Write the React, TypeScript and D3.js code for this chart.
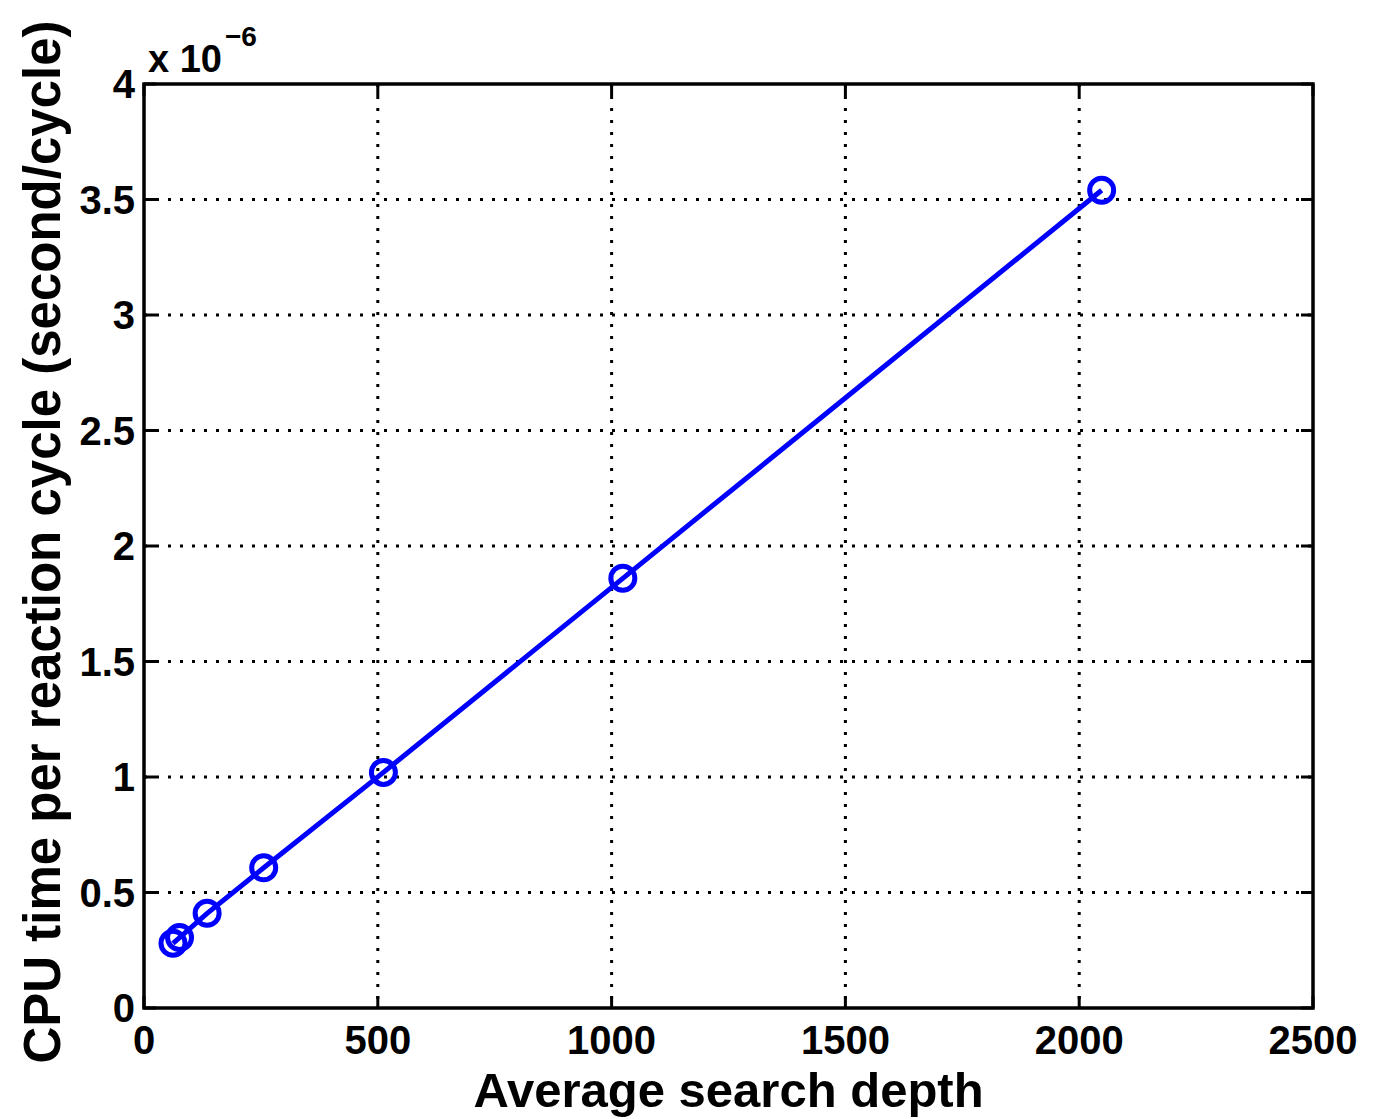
import React from "react";
import * as d3 from "d3";

// average search depth vs cpu time (x 1e-6 s)
const depths = [62, 76, 135, 256, 512, 1024, 2048];
const cpuTimes = [0.28, 0.305, 0.41, 0.607, 1.02, 1.86, 3.54];
const xTicks = [0, 500, 1000, 1500, 2000, 2500];
const yTicks = [0, 0.5, 1, 1.5, 2, 2.5, 3, 3.5, 4];

const width = 1380;
const height = 1119;
const margin = { top: 84, right: 67, bottom: 111, left: 144 };
const font = "'Liberation Sans', Arial, Helvetica, sans-serif";

function Chart() {
  const ref = React.useRef<SVGSVGElement>(null);

  React.useEffect(() => {
    const svg = d3.select(ref.current);
    svg.selectAll("*").remove();

    const x = d3
      .scaleLinear()
      .domain([0, 2500])
      .range([margin.left, width - margin.right]);
    const y = d3
      .scaleLinear()
      .domain([0, 4])
      .range([height - margin.bottom, margin.top]);

    // dotted grid
    const grid = svg.append("g").attr("stroke", "#000").attr("stroke-width", 3).attr("stroke-dasharray", "3 9");
    grid
      .selectAll(".gx")
      .data(xTicks.slice(1, -1))
      .join("line")
      .attr("x1", (d) => x(d))
      .attr("x2", (d) => x(d))
      .attr("y1", y(4))
      .attr("y2", y(0));
    grid
      .selectAll(".gy")
      .data(yTicks.slice(1, -1))
      .join("line")
      .attr("y1", (d) => y(d))
      .attr("y2", (d) => y(d))
      .attr("x1", x(0))
      .attr("x2", x(2500));

    // inward ticks
    const ticks = svg.append("g").attr("stroke", "#000").attr("stroke-width", 3);
    xTicks.forEach((t) => {
      ticks.append("line").attr("x1", x(t)).attr("x2", x(t)).attr("y1", y(0)).attr("y2", y(0) - 12);
      ticks.append("line").attr("x1", x(t)).attr("x2", x(t)).attr("y1", y(4)).attr("y2", y(4) + 12);
    });
    yTicks.forEach((t) => {
      ticks.append("line").attr("x1", x(0)).attr("x2", x(0) + 12).attr("y1", y(t)).attr("y2", y(t));
      ticks.append("line").attr("x1", x(2500)).attr("x2", x(2500) - 12).attr("y1", y(t)).attr("y2", y(t));
    });

    // box
    svg
      .append("rect")
      .attr("x", x(0))
      .attr("y", y(4))
      .attr("width", x(2500) - x(0))
      .attr("height", y(0) - y(4))
      .attr("fill", "none")
      .attr("stroke", "#000")
      .attr("stroke-width", 3.5);

    const pts = depths.map((d, i) => [d, cpuTimes[i]] as [number, number]);
    const line = d3
      .line<[number, number]>()
      .x((d) => x(d[0]))
      .y((d) => y(d[1]));

    svg
      .append("path")
      .datum(pts)
      .attr("fill", "none")
      .attr("stroke", "#0000ff")
      .attr("stroke-width", 5)
      .attr("d", line);

    svg
      .append("g")
      .selectAll("circle")
      .data(pts)
      .join("circle")
      .attr("cx", (d) => x(d[0]))
      .attr("cy", (d) => y(d[1]))
      .attr("r", 12)
      .attr("fill", "none")
      .attr("stroke", "#0000ff")
      .attr("stroke-width", 5);

    // tick labels
    const labels = svg.append("g").attr("font-family", font).attr("font-weight", "bold").attr("font-size", 40);
    labels
      .selectAll(".xl")
      .data(xTicks)
      .join("text")
      .attr("x", (d) => x(d))
      .attr("y", y(0) + 46)
      .attr("text-anchor", "middle")
      .text((d) => String(d));
    labels
      .selectAll(".yl")
      .data(yTicks)
      .join("text")
      .attr("x", x(0) - 9)
      .attr("y", (d) => y(d) + 14)
      .attr("text-anchor", "end")
      .text((d) => String(d));

    // exponent
    const exp = svg.append("text").attr("font-family", font).attr("font-weight", "bold").attr("font-size", 38);
    exp.append("tspan").attr("x", x(0) + 4).attr("y", 72).text("x 10");
    exp.append("tspan").attr("dx", 3).attr("y", 46).attr("font-size", 28).text("−6");

    // axis titles
    svg
      .append("text")
      .attr("x", (x(0) + x(2500)) / 2)
      .attr("y", 1107)
      .attr("text-anchor", "middle")
      .attr("font-family", font)
      .attr("font-weight", "bold")
      .attr("font-size", 49)
      .text("Average search depth");

    svg
      .append("text")
      .attr("transform", `translate(60,${(y(0) + y(4)) / 2 - 4}) rotate(-90)`)
      .attr("text-anchor", "middle")
      .attr("font-family", font)
      .attr("font-weight", "bold")
      .attr("font-size", 51)
      .text("CPU time per reaction cycle (second/cycle)");
  }, []);

  return (
    <svg
      ref={ref}
      width={width}
      height={height}
      style={{ position: "absolute", left: 0, top: 0, background: "#fff" }}
    />
  );
}

export default function App() {
  return <Chart />;
}
